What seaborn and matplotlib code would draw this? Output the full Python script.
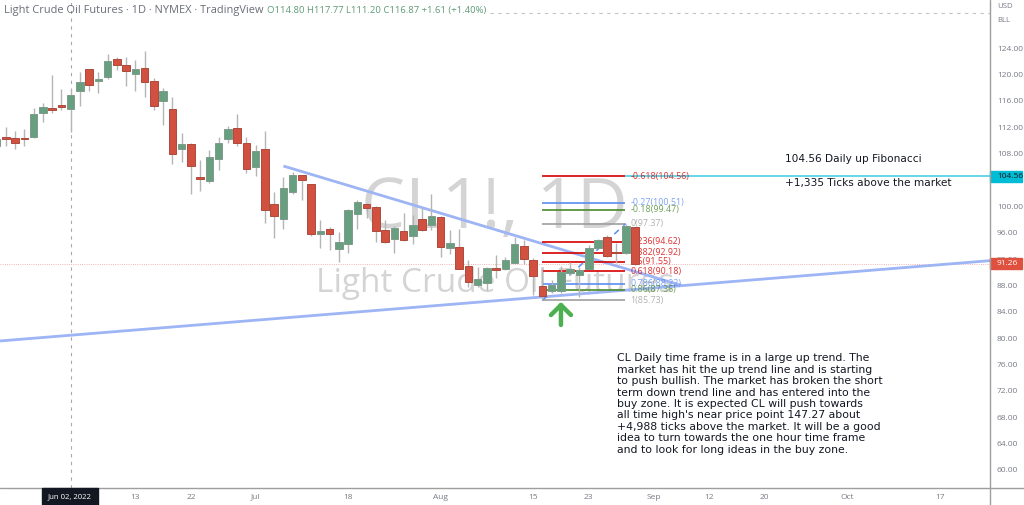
import pandas as pd
import matplotlib
matplotlib.use("Agg")
import matplotlib.pyplot as plt
from matplotlib.patches import Rectangle
import seaborn as sns

# daily candles, day 0 is Jun 02 2022 (trading days only)
first_day = -8
opens = [109.14, 110.51, 110.35, 110.35, 110.51, 114.15, 114.90, 115.36, 114.80, 117.48,
         120.82, 119.00, 119.60, 122.33, 121.42, 120.06, 120.97, 119.00, 115.96, 114.75,
         108.68, 109.44, 104.44, 103.83, 107.17, 110.20, 111.87, 109.60, 105.95, 108.68,
         100.34, 98.07, 102.16, 104.74, 103.37, 95.79, 96.55, 93.52, 94.27, 98.83,
         100.34, 99.88, 96.40, 95.03, 96.25, 95.49, 98.07, 97.16, 98.37, 93.67,
         93.82, 90.94, 88.06, 88.36, 90.64, 90.48, 91.40, 93.97, 91.85, 87.91,
         87.15, 87.15, 89.88, 89.58, 90.48, 93.67, 95.34, 93.06, 92.91, 96.85]
highs = [111.26, 112.02, 111.42, 111.72, 114.90, 115.66, 119.91, 117.78, 117.77, 120.37,
         120.82, 120.37, 123.09, 122.64, 122.64, 122.18, 123.55, 119.45, 117.93, 116.57,
         111.11, 109.60, 107.02, 108.53, 110.51, 112.17, 113.99, 110.51, 109.29, 111.42,
         102.16, 104.44, 105.20, 104.74, 103.37, 97.92, 96.85, 96.10, 99.58, 100.95,
         100.49, 100.04, 97.92, 97.00, 98.98, 98.67, 99.73, 101.86, 98.52, 96.40,
         96.55, 91.85, 90.79, 90.79, 92.61, 92.30, 95.34, 94.88, 92.15, 90.64,
         88.82, 90.94, 91.55, 90.79, 94.12, 95.03, 95.64, 94.43, 97.37, 96.85]
lows = [108.53, 109.14, 108.68, 109.14, 110.35, 112.78, 114.15, 114.60, 111.20, 115.21,
        117.48, 117.18, 119.30, 120.67, 118.24, 117.48, 116.57, 114.60, 112.33, 106.41,
        106.71, 101.86, 102.32, 103.53, 105.50, 109.60, 109.14, 105.04, 104.59, 97.46,
        95.19, 96.55, 101.86, 100.95, 95.49, 93.67, 93.37, 91.55, 92.91, 96.55,
        98.22, 94.58, 94.43, 92.91, 94.73, 94.27, 96.25, 96.40, 92.30, 92.76,
        90.48, 87.76, 87.76, 87.30, 89.12, 90.33, 91.40, 91.24, 86.54, 85.79,
        86.85, 86.85, 89.58, 86.24, 90.48, 93.67, 92.30, 91.40, 92.76, 91.07]
closes = [110.20, 110.20, 109.60, 110.20, 113.99, 115.05, 114.60, 115.05, 116.87, 118.85,
          118.39, 119.30, 122.03, 121.42, 120.52, 120.82, 118.85, 115.21, 117.48, 107.93,
          109.44, 106.11, 104.13, 107.47, 109.60, 111.72, 109.60, 105.65, 108.38, 99.43,
          98.52, 102.77, 104.74, 103.98, 95.79, 96.25, 95.79, 94.58, 99.43, 100.65,
          99.73, 96.25, 94.58, 96.70, 94.88, 97.16, 96.40, 98.52, 93.82, 94.43,
          90.48, 88.51, 88.97, 90.64, 90.33, 91.85, 94.27, 92.00, 89.42, 86.39,
          88.06, 90.03, 90.48, 90.33, 93.67, 94.88, 92.46, 92.91, 97.01, 91.26]

# fibonacci levels
fib_labels = ["-0.618(104.56)", "-0.27(100.51)", "-0.18(99.47)", "0(97.37)", "0.236(94.62)",
              "0.382(92.92)", "0.5(91.55)", "0.618(90.18)", "0.786(88.22)", "0.86(87.36)",
              "1(85.73)"]
fib_prices = [104.56, 100.51, 99.47, 97.37, 94.62, 92.92, 91.55, 90.18, 88.22, 87.36, 85.73]
fib_colors = ["#d50000", "#5b8def", "#4a8a2c", "#9e9e9e", "#d50000", "#d50000", "#d50000",
              "#d50000", "#5b8def", "#4a8a2c", "#9e9e9e"]

price_ticks = [124, 120, 116, 112, 108, 104, 100, 96, 92, 88, 84, 80, 76, 72, 68, 64, 60]
date_ticks = [7, 13, 20, 30, 40, 50, 56, 63, 69, 75, 84, 94]
date_labels = ["13", "22", "Jul", "18", "Aug", "15", "23", "Sep", "12", "20", "Oct", "17"]

note = ("CL Daily time frame is in a large up trend. The\n"
        "market has hit the up trend line and is starting\n"
        "to push bullish. The market has broken the short\n"
        "term down trend line and has entered into the\n"
        "buy zone. It is expected CL will push towards\n"
        "all time high's near price point 147.27 about\n"
        "+4,988 ticks above the market. It will be a good\n"
        "idea to turn towards the one hour time frame\n"
        "and to look for long ideas in the buy zone.")

candles = pd.DataFrame({"open": opens, "high": highs, "low": lows, "close": closes})
candles["day"] = range(first_day, first_day + len(candles))
candles["base"] = candles[["open", "close"]].min(axis=1)
candles["body"] = (candles["close"] - candles["open"]).abs()
rising = candles[candles["close"] >= candles["open"]]
falling = candles[candles["close"] < candles["open"]]

sns.set_theme(style="white")
plt.rcParams["font.family"] = ["Open Sans", "DejaVu Sans"]

fig = plt.figure(figsize=(10.24, 5.05), dpi=100)
ax = fig.add_axes([0, 17 / 505, 990 / 1024, 488 / 505])

GREY = "#787b86"
BLUE = "#9db4f5"
RIGHT_END = 99.38

# watermark
ax.text(45.8, 99.5, "CL1!, 1D", fontsize=50.5, color="#d4d4d4", ha="center", va="center", zorder=0)
ax.text(45.9, 88.3, "Light Crude Oil Futures", fontsize=24, color="#d4d4d4", ha="center", va="center", zorder=0)

# crosshair, last price line, top dashed line
ax.axvline(0, color="#a8a8a8", lw=0.8, ls=(0, (3, 4)), zorder=1)
ax.hlines(129.3, 45.3, RIGHT_END, color="#c4c4c4", lw=0.8, ls=(0, (3, 4)), zorder=1)
ax.axhline(91.26, color="#ef9a9a", lw=0.6, ls=":", zorder=1)

# trend lines
ax.plot([-7.64, RIGHT_END], [79.57, 91.75], color=BLUE, lw=2, zorder=2, solid_capstyle="butt")
ax.plot([23, 66], [106.1, 88.0], color=BLUE, lw=2, zorder=2, solid_capstyle="butt")

# fib tool
ax.hlines(fib_prices, 51, 59.9, colors=fib_colors, lw=1.2, zorder=2)
ax.plot([51, 60], [85.73, 97.37], color="#5b8def", lw=1.1, ls=(0, (4, 4)), zorder=2)
ax.hlines(104.56, 59.9, RIGHT_END, color="#4dd0e1", lw=1.2, zorder=2)
for label, price, color in zip(fib_labels, fib_prices, fib_colors):
    ax.text(60.5, price, label, fontsize=6.4, color=color, alpha=0.8, va="center", zorder=2.2)

# candles
ax.vlines(candles["day"], candles["low"], candles["high"], color="#b5b5b5", lw=1, zorder=3)
sns.barplot(data=rising, x="day", y="body", bottom=rising["base"], native_scale=True, color="#689f80",
            edgecolor="#7f9c8b", linewidth=0.7, saturation=1, width=0.82, errorbar=None, ax=ax, zorder=4)
sns.barplot(data=falling, x="day", y="body", bottom=falling["base"], native_scale=True, color="#d2503f",
            edgecolor="#ad4a3d", linewidth=0.7, saturation=1, width=0.82, errorbar=None, ax=ax, zorder=4)

# green arrow
ax.annotate("", xy=(53, 85.5), xytext=(53, 82.0), zorder=5,
            arrowprops=dict(arrowstyle="->,head_length=0.6,head_width=0.6", color="#4caf50", lw=3.2, shrinkA=0, shrinkB=0))

# notes
ax.text(77.2, 107.2, "104.56 Daily up Fibonacci", fontsize=7.6, color="#131722", family="DejaVu Sans", va="center", zorder=6)
ax.text(77.2, 103.6, "+1,335 Ticks above the market", fontsize=7.6, color="#131722", family="DejaVu Sans", va="center", zorder=6)
ax.text(59.1, 77.7, note, fontsize=7.8, color="#131722", family="DejaVu Sans", va="top", linespacing=1.18, zorder=6)

ax.set_xlim(-7.64, RIGHT_END)
ax.set_ylim(57.27, 131.28)
ax.set_xlabel("")
ax.set_ylabel("")

ax.yaxis.tick_right()
ax.set_yticks(price_ticks, [f"{p:.2f}" for p in price_ticks])
ax.set_xticks(date_ticks, date_labels)
ax.tick_params(axis="y", length=0, pad=5, labelsize=6, labelcolor=GREY)
ax.tick_params(axis="x", length=0, pad=4, labelsize=6, labelcolor=GREY)
for side in ["left", "top", "right", "bottom"]:
    ax.spines[side].set_visible(False)

# axis lines and price boxes
fig.add_artist(plt.Line2D([990 / 1024, 990 / 1024], [0, 1], color="#9e9e9e", lw=1))
fig.add_artist(plt.Line2D([0, 1], [17 / 505, 17 / 505], color="#9e9e9e", lw=1))
yt = ax.get_yaxis_transform()
ax.add_patch(Rectangle((1.0005, 103.72), 0.0323, 1.67, transform=yt, color="#00bcd4", clip_on=False, zorder=7))
ax.add_patch(Rectangle((1.0005, 90.43), 0.0323, 1.67, transform=yt, color="#e0503f", clip_on=False, zorder=7))
ax.text(1.0071, 104.56, "104.56", transform=yt, fontsize=6, color="#131722", va="center", zorder=8)
ax.text(1.0071, 91.26, "91.26", transform=yt, fontsize=6, color="white", va="center", zorder=8)

fig.text(997 / 1024, 1 - 7 / 505, "USD", fontsize=5.6, color=GREY, va="center")
fig.text(997 / 1024, 1 - 20 / 505, "BLL", fontsize=5.6, color=GREY, va="center")
fig.add_artist(Rectangle((42 / 1024, 0), 56 / 1024, 17 / 505, transform=fig.transFigure, color="#131722", zorder=8))
fig.text(70 / 1024, 1 - 497 / 505, "Jun 02, 2022", fontsize=5.6, color="white", ha="center", va="center", zorder=9)

# header
fig.text(4 / 1024, 1 - 10 / 505, "Light Crude Oil Futures · 1D · NYMEX · TradingView", fontsize=7.9, color="#6a6d78", va="center")
fig.text(267 / 1024, 1 - 10 / 505, "O114.80 H117.77 L111.20 C116.87 +1.61 (+1.40%)", fontsize=6.8, color="#5f9b78", va="center")

fig.savefig("out.png", dpi=100)
